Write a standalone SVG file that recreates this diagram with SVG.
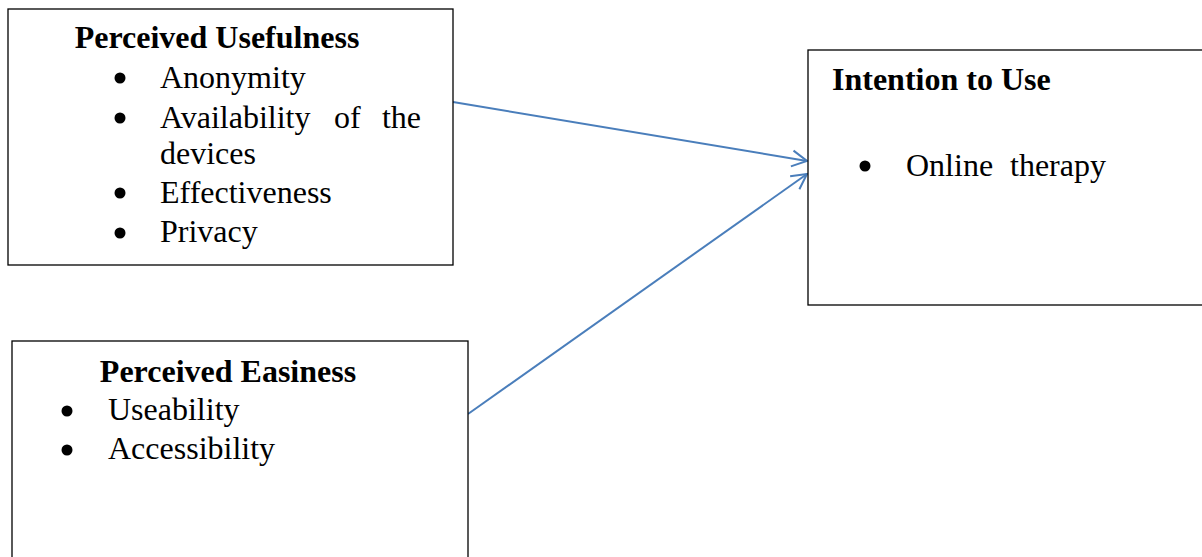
<svg xmlns="http://www.w3.org/2000/svg" width="1202" height="557" viewBox="0 0 1202 557">
<style>
.box{fill:#fff;stroke:#000;stroke-width:1.3}
.t{font-family:"Liberation Serif","Times New Roman",serif;font-size:32px;fill:#000}
.h{font-weight:bold}
.b{fill:#000}
.c{fill:none;stroke:#4A7EBB;stroke-width:2}
</style>
<defs>
<marker id="arr" markerUnits="userSpaceOnUse" markerWidth="20" markerHeight="20" refX="16" refY="10" orient="auto" viewBox="0 0 20 20">
<path d="M1,2 L16,10 L1,18" fill="none" stroke="#4A7EBB" stroke-width="2"/>
</marker>
</defs>
<rect width="1202" height="557" fill="#fff"/>
<g id="connectors">
<line class="c" x1="453" y1="102" x2="807" y2="161" marker-end="url(#arr)"/>
<line class="c" x1="468" y1="414" x2="807" y2="174" marker-end="url(#arr)"/>
</g>
<g id="usefulness">
<rect class="box" x="8" y="9" width="445" height="256"/>
<text class="t h" x="217" y="48" text-anchor="middle">Perceived Usefulness</text>
<circle class="b" cx="120" cy="78" r="5.5"/>
<text class="t" x="160" y="88">Anonymity</text>
<circle class="b" cx="120" cy="118" r="5.5"/>
<text class="t" x="160" y="128">Availability</text>
<text class="t" x="334" y="128">of</text>
<text class="t" x="421" y="128" text-anchor="end">the</text>
<text class="t" x="160" y="164">devices</text>
<circle class="b" cx="120" cy="193" r="5.5"/>
<text class="t" x="160" y="203">Effectiveness</text>
<circle class="b" cx="120" cy="233" r="5.5"/>
<text class="t" x="160" y="242">Privacy</text>
</g>
<g id="easiness">
<rect class="box" x="12" y="341" width="456" height="230"/>
<text class="t h" x="228" y="382" text-anchor="middle">Perceived Easiness</text>
<circle class="b" cx="67" cy="411" r="5.5"/>
<text class="t" x="108" y="420">Useability</text>
<circle class="b" cx="67" cy="450" r="5.5"/>
<text class="t" x="108" y="459">Accessibility</text>
</g>
<g id="intention">
<rect class="box" x="808" y="50" width="400" height="255"/>
<text class="t h" x="832" y="90">Intention to Use</text>
<circle class="b" cx="865" cy="166" r="5.5"/>
<text class="t" x="906" y="176">Online</text>
<text class="t" x="1010" y="176">therapy</text>
</g>
</svg>
